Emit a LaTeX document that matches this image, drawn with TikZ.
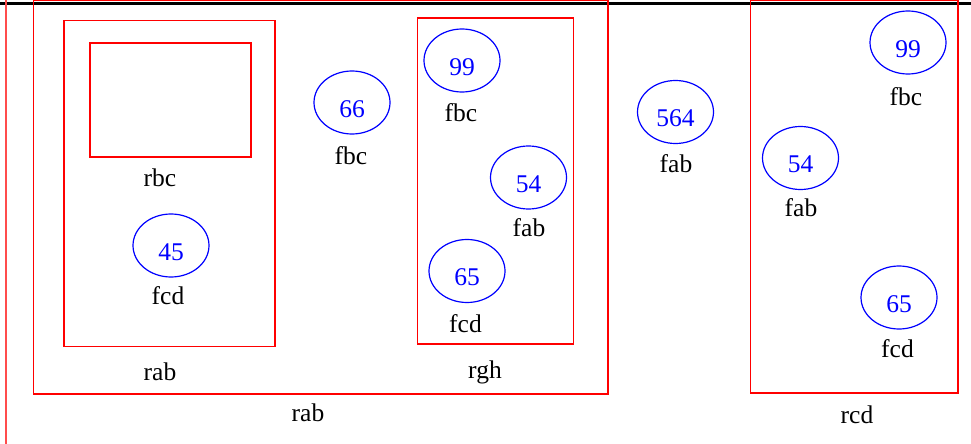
\documentclass[tikz,border=0pt]{standalone}
\usepackage{fontspec}
\setmainfont{Liberation Serif}
\usetikzlibrary{shapes.geometric}
\newcommand{\lownum}[1]{\raisebox{0pt}[29pt][0pt]{#1}}
\begin{document}
\begin{tikzpicture}[x=1pt,y=-1pt,
  ell/.style={draw=blue,line width=1.2pt,ellipse,minimum width=76pt,minimum height=63pt,inner sep=0pt,text=blue,font=\fontsize{25.5}{29}\selectfont},
  lab/.style={inner sep=0pt,text=black,font=\fontsize{25.5}{29}\selectfont}]
\useasboundingbox (0,0) rectangle (971,444);
% black top line
\coordinate (tl) at (0,3.6);
\coordinate (tr) at (971,3.6);
\draw[line width=2.7pt,black] (tl) -- (tr);
% red vertical line (outer container, left edge)
\coordinate (vt) at (6,-2);
\coordinate (vb) at (6,446);
\draw[red!70,line width=1.5pt] (vt) -- (vb);
% boxes
\draw[red,line width=1.3pt] (33.7,0.6) coordinate (rabOtl) rectangle (608,394) coordinate (rabObr);
\draw[red,line width=1.3pt] (64,20.7) coordinate (rabItl) rectangle (275,346.5) coordinate (rabIbr);
\draw[red,line width=1.3pt] (90,43) coordinate (rbctl) rectangle (251,157) coordinate (rbcbr);
\draw[red,line width=1.3pt] (417.5,18) coordinate (rghtl) rectangle (573.5,344) coordinate (rghbr);
\draw[red,line width=1.3pt] (750.5,0.6) coordinate (rcdtl) rectangle (958,393) coordinate (rcdbr);
% box labels
\node[lab] (lrabO) at (308,413) {rab};
\node[lab] (lrabI) at (160,372) {rab};
\node[lab] (lrbc) at (160,178) {rbc};
\node[lab] (lrgh) at (485,372.5) {rgh};
\node[lab] (lrcd) at (857,415) {rcd};
% ellipses
\node[ell] (e45) at (171,245.5) {\lownum{45}};
\node[lab] (l45) at (168,295.5) {fcd};
\node[ell] (e66) at (352,102.5) {\lownum{66}};
\node[lab] (l66) at (351,156) {fbc};
\node[ell] (e99a) at (462,60.5) {\lownum{99}};
\node[lab] (l99a) at (461,113) {fbc};
\node[ell] (e54a) at (528.5,177.5) {\lownum{54}};
\node[lab] (l54a) at (529,228) {fab};
\node[ell] (e65a) at (467,271) {\lownum{65}};
\node[lab] (l65a) at (465.5,324) {fcd};
\node[ell] (e564) at (675.5,112) {\lownum{564}};
\node[lab] (l564) at (676,164) {fab};
\node[ell] (e99b) at (908,42.5) {\lownum{99}};
\node[lab] (l99b) at (906,96.5) {fbc};
\node[ell] (e54b) at (800.5,158) {\lownum{54}};
\node[lab] (l54b) at (801,208) {fab};
\node[ell] (e65b) at (899,297.5) {\lownum{65}};
\node[lab] (l65b) at (897.5,348.5) {fcd};
\end{tikzpicture}
\end{document}
